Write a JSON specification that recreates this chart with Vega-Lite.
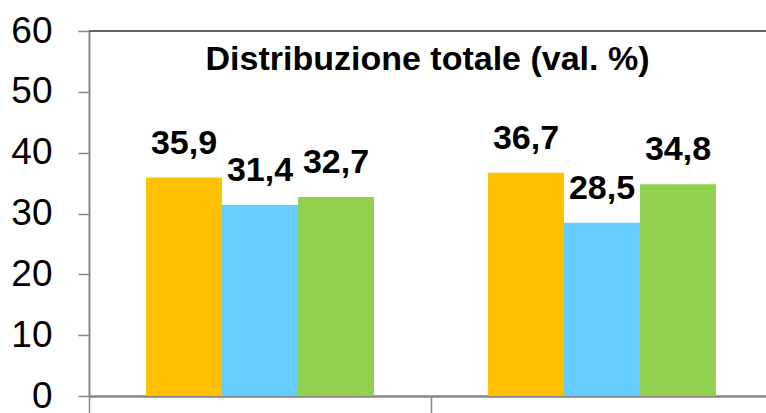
{
  "$schema": "https://vega.github.io/schema/vega-lite/v6.json",
  "width": 677,
  "height": 365,
  "autosize": "none",
  "padding": {"left": 89, "top": 31, "right": 0, "bottom": 17},
  "background": "white",
  "config": {
    "view": {"stroke": null},
    "locale": {"number": {"decimal": ",", "thousands": ".", "grouping": [3], "currency": ["€", ""]}},
    "font": "Liberation Sans, sans-serif"
  },
  "title": {
    "text": "Distribuzione totale (val. %)",
    "font": "Liberation Sans, sans-serif",
    "fontSize": 34,
    "fontWeight": "bold",
    "color": "#000000",
    "anchor": "middle",
    "frame": "group",
    "baseline": "alphabetic",
    "offset": -41,
    "dy": 51
  },
  "data": {
    "values": [
      {"gruppo": "Gruppo 1", "serie": "Serie 1", "valore": 35.9},
      {"gruppo": "Gruppo 1", "serie": "Serie 2", "valore": 31.4},
      {"gruppo": "Gruppo 1", "serie": "Serie 3", "valore": 32.7},
      {"gruppo": "Gruppo 2", "serie": "Serie 1", "valore": 36.7},
      {"gruppo": "Gruppo 2", "serie": "Serie 2", "valore": 28.5},
      {"gruppo": "Gruppo 2", "serie": "Serie 3", "valore": 34.8}
    ]
  },
  "encoding": {
    "x": {
      "field": "gruppo",
      "type": "nominal",
      "scale": {"range": [0, 684], "paddingInner": 0, "paddingOuter": 0},
      "axis": {
        "title": null,
        "labels": false,
        "bandPosition": 0,
        "domainColor": "#868686",
        "domainWidth": 2.5,
        "tickColor": "#868686",
        "tickWidth": 1.5,
        "tickSize": 20,
        "grid": false
      }
    },
    "xOffset": {
      "field": "serie",
      "type": "nominal",
      "scale": {"paddingOuter": 0.75, "paddingInner": 0}
    }
  },
  "layer": [
    {
      "mark": {"type": "rule", "color": "#666666", "strokeWidth": 1.5},
      "encoding": {"y": {"datum": 60, "type": "quantitative"}, "x": null, "xOffset": null}
    },
    {
      "mark": {"type": "bar"},
      "encoding": {
        "y": {
          "field": "valore",
          "type": "quantitative",
          "scale": {"domain": [0, 60]},
          "axis": {
            "title": null,
            "values": [0, 10, 20, 30, 40, 50, 60],
            "grid": false,
            "domainColor": "#868686",
            "domainWidth": 2,
            "tickColor": "#868686",
            "tickWidth": 1.5,
            "tickSize": 11,
            "labelPadding": 26,
            "labelFontSize": 37,
            "labelColor": "#000000",
            "labelFont": "Liberation Sans, sans-serif"
          }
        },
        "color": {
          "field": "serie",
          "type": "nominal",
          "scale": {"domain": ["Serie 1", "Serie 2", "Serie 3"], "range": ["#FFC000", "#66CCFF", "#92D050"]},
          "legend": null
        }
      }
    },
    {
      "mark": {
        "type": "text",
        "baseline": "alphabetic",
        "align": "center",
        "dy": -24,
        "fontSize": 34,
        "fontWeight": "bold",
        "color": "#000000",
        "font": "Liberation Sans, sans-serif"
      },
      "encoding": {
        "y": {"field": "valore", "type": "quantitative"},
        "text": {"field": "valore", "type": "quantitative", "format": ".1f"}
      }
    }
  ]
}
